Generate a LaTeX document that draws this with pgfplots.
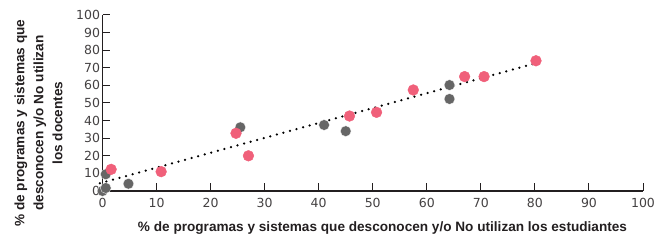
\documentclass[border=0pt]{standalone}
\usepackage{pgfplots}
\pgfplotsset{compat=1.18}
\usepackage{fontspec}
\setmainfont{Liberation Sans}
\newfontfamily\tickfont{DejaVu Sans}
\definecolor{pinkc}{HTML}{F0607A}
\definecolor{grayc}{HTML}{666666}
\definecolor{txt}{HTML}{231F20}
\begin{document}
\begin{tikzpicture}
\path[use as bounding box] (0,0) rectangle (659pt,246pt);
\begin{axis}[
  at={(102.5pt,55pt)}, anchor=south west,
  scale only axis, width=540.5pt, height=176pt,
  xmin=0, xmax=100, ymin=0, ymax=100,
  xtick={0,10,...,100}, ytick={0,10,...,100},
  axis lines=left, axis line style={-, line width=1.1pt, txt},
  tick style={line width=1pt, txt},
  tick align=inside, major tick length=7.5pt,
  /pgf/number format/assume math mode=true,
  ticklabel style={font=\tickfont\fontsize{12.5}{12.5}\selectfont, text=txt!85},
  xticklabel style={yshift=-4pt},
  yticklabel style={xshift=1pt},
  clip=false,
  xlabel={\textbf{\% de programas y sistemas que desconocen y/o No utilizan los estudiantes}},
  xlabel style={font=\fontsize{13.6}{14}\selectfont, text=txt, at={(axis description cs:0.518,0)}, anchor=center, yshift=-37pt},
  ylabel={\textbf{\% de programas y sistemas que}\\\textbf{desconocen y/o No utilizan}\\\textbf{los docentes}},
  ylabel style={font=\fontsize{13.6}{19}\selectfont, text=txt, align=center, at={(axis description cs:-0.1184,0.386)}, anchor=center},
]
\addplot[only marks, mark=*, mark size=5.4pt, color=grayc, mark options={draw=white, line width=0.3pt}] coordinates {
(0,0) (0.6,1.7) (0.6,9.5) (4.8,4.1) (25.5,36.2) (41,37.5) (45,34) (64.2,60.2) (64.2,52.3)
};
\addplot[only marks, mark=*, mark size=5.4pt, color=pinkc, mark options={draw=pinkc}] coordinates {
(1.6,12.3) (10.85,11) (24.7,32.8) (27,20) (45.7,42.6) (50.7,44.7) (57.5,57.4) (67,65) (70.6,65) (80.2,74)
};
\addplot[black, line width=2.5pt, line cap=round, dash pattern=on 0pt off 6.8pt] coordinates {(-0.5,4.4) (80,72.5)};
\end{axis}
\end{tikzpicture}
\end{document}
